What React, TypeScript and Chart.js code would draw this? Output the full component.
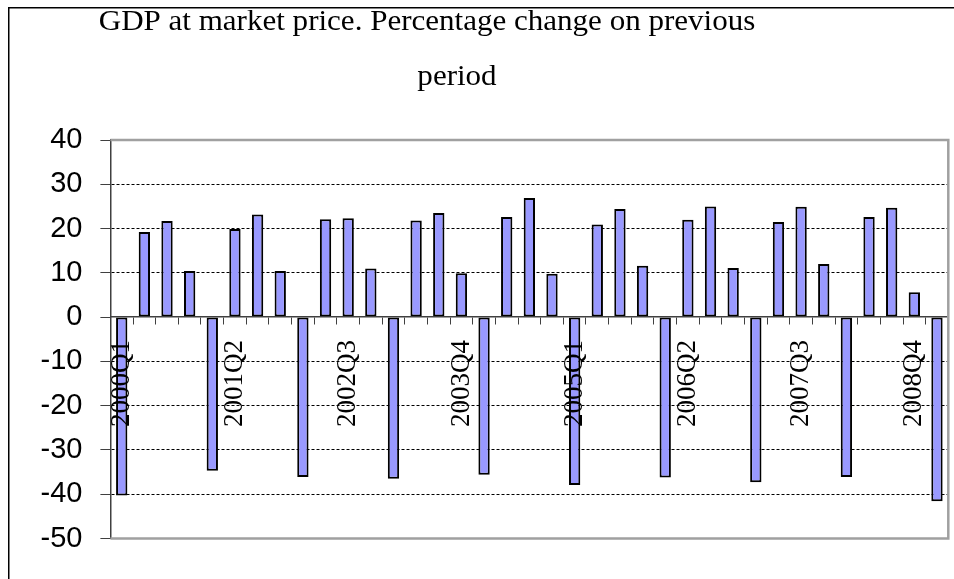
import React, { useEffect, useRef } from 'react';
import { Chart, registerables } from 'chart.js';

Chart.register(...registerables);

const CATEGORIES = [
  '2000Q1', '2000Q2', '2000Q3', '2000Q4',
  '2001Q1', '2001Q2', '2001Q3', '2001Q4',
  '2002Q1', '2002Q2', '2002Q3', '2002Q4',
  '2003Q1', '2003Q2', '2003Q3', '2003Q4',
  '2004Q1', '2004Q2', '2004Q3', '2004Q4',
  '2005Q1', '2005Q2', '2005Q3', '2005Q4',
  '2006Q1', '2006Q2', '2006Q3', '2006Q4',
  '2007Q1', '2007Q2', '2007Q3', '2007Q4',
  '2008Q1', '2008Q2', '2008Q3', '2008Q4',
  '2009Q1',
];

const GDP_CHANGE = [
  -40.3, 19.2, 21.7, 10.4,
  -34.7, 19.9, 23.2, 10.4,
  -36.1, 22.1, 22.3, 11.0,
  -36.5, 21.8, 23.5, 9.9,
  -35.6, 22.6, 26.9, 9.8,
  -37.9, 20.9, 24.4, 11.6,
  -36.2, 22.0, 25.0, 11.1,
  -37.3, 21.5, 24.9, 12.0,
  -36.1, 22.6, 24.7, 5.6,
  -41.6,
];

const TITLE_LINES = ['GDP at market price. Percentage change on previous', 'period'];
const Y_MIN = -50;
const Y_MAX = 40;
const Y_STEP = 10;
const LABEL_EVERY = 5;

const SERIF = "'Liberation Serif', 'Times New Roman', serif";
const SANS = "'Liberation Sans', Arial, sans-serif";

const outerBorderPlugin = {
  id: 'outerBorder',
  afterDraw(chart: any) {
    const { ctx, width, height } = chart;
    ctx.save();
    ctx.strokeStyle = '#000';
    ctx.lineWidth = 1.5;
    ctx.beginPath();
    ctx.moveTo(0.75, height);
    ctx.lineTo(0.75, 0.75);
    ctx.lineTo(width, 0.75);
    ctx.stroke();
    ctx.restore();
  },
};

const framePlugin = {
  id: 'plotFrame',
  afterDraw(chart: any) {
    const { ctx, chartArea } = chart;
    ctx.save();
    ctx.strokeStyle = '#a0a0a0';
    ctx.lineWidth = 2.5;
    ctx.beginPath();
    ctx.moveTo(chartArea.left, chartArea.top);
    ctx.lineTo(chartArea.right, chartArea.top);
    ctx.lineTo(chartArea.right, chartArea.bottom);
    ctx.lineTo(chartArea.left, chartArea.bottom);
    ctx.stroke();
    ctx.restore();
  },
};

const titlePlugin = {
  id: 'stretchedTitle',
  afterDraw(chart: any) {
    const { ctx } = chart;
    const placements = [
      { cx: 419, base: 23 },
      { cx: 449, base: 78 },
    ];
    ctx.save();
    ctx.font = `29px ${SERIF}`;
    ctx.fillStyle = '#000';
    ctx.textAlign = 'center';
    ctx.textBaseline = 'alphabetic';
    TITLE_LINES.forEach((line, i) => {
      const p = placements[i];
      ctx.save();
      ctx.translate(p.cx, p.base);
      ctx.scale(1.07, 1);
      ctx.fillText(line, 0, 0);
      ctx.restore();
    });
    ctx.restore();
  },
};

export default function App() {
  const ref = useRef<HTMLCanvasElement>(null);

  useEffect(() => {
    document.documentElement.style.overflow = 'hidden';
    const chart = new Chart(ref.current as HTMLCanvasElement, {
      type: 'bar',
      data: {
        labels: CATEGORIES,
        datasets: [
          {
            data: GDP_CHANGE,
            backgroundColor: '#9999FF',
            borderColor: '#000000',
            borderWidth: 2,
            borderSkipped: false,
            barPercentage: 0.5,
            categoryPercentage: 1,
          },
        ],
      },
      options: {
        animation: false,
        responsive: false,
        maintainAspectRatio: false,
        layout: { padding: { top: 133, right: 5.7, bottom: 40.5, left: 0 } },
        plugins: {
          legend: { display: false },
          title: { display: false },
          tooltip: { enabled: false },
        },
        scales: {
          x: {
            position: { y: 0 },
            offset: true,
            grid: {
              drawOnChartArea: false,
              drawTicks: true,
              tickLength: 7,
              tickColor: '#404040',
              offset: true,
              z: 1,
            },
            border: { display: true, color: '#404040', width: 1.5, z: 1 },
            ticks: {
              z: 1,
              autoSkip: false,
              minRotation: 90,
              maxRotation: 90,
              padding: 16,
              color: '#000',
              font: { family: SERIF, size: 27 },
              callback: (_v: any, i: number) => (i % LABEL_EVERY === 0 ? CATEGORIES[i] : ''),
            },
            afterFit: (s: any) => {
              s.height = 0;
              s.paddingLeft = 0;
              s.paddingRight = 0;
            },
          },
          y: {
            min: Y_MIN,
            max: Y_MAX,
            ticks: {
              stepSize: Y_STEP,
              padding: 18,
              color: '#000',
              font: { family: SANS, size: 29 },
            },
            grid: {
              color: (c: any) => {
                const v = c.tick ? c.tick.value : null;
                return v === 0 || v === Y_MAX || v === Y_MIN ? 'rgba(0,0,0,0)' : '#000';
              },
              lineWidth: 1,
              drawTicks: true,
              tickLength: 10,
              tickColor: '#404040',
            },
            border: { display: true, color: '#404040', width: 1.5, dash: [3, 2] },
            afterFit: (s: any) => {
              s.width = 102.4;
              s.paddingTop = 0;
              s.paddingBottom = 0;
            },
          },
        },
      },
      plugins: [framePlugin, titlePlugin, outerBorderPlugin],
    } as any);
    return () => chart.destroy();
  }, []);

  return (
    <canvas
      ref={ref}
      width={946}
      height={572}
      style={{ position: 'absolute', left: 8, top: 7, display: 'block' }}
    />
  );
}
